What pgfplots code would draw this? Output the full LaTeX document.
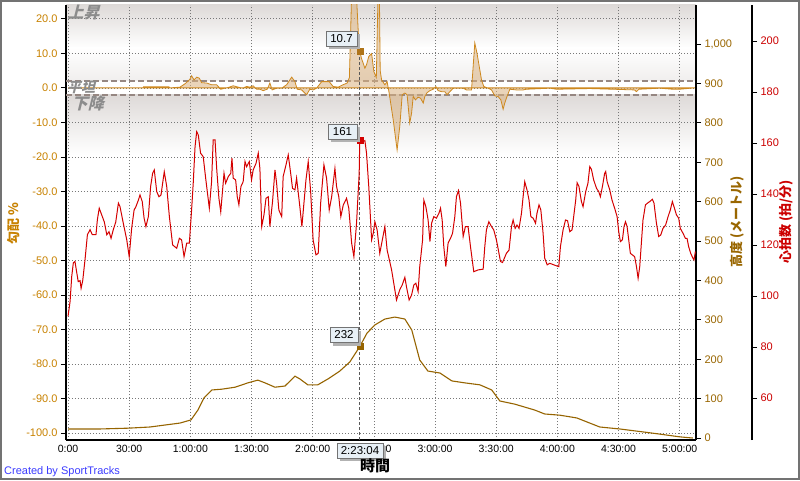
\documentclass[border=0pt]{standalone}
\usepackage{pgfplots}
\pgfplotsset{compat=1.18}
\usepackage{fontspec}
\setmainfont{Liberation Sans}
\newfontfamily\cjk{Noto Sans CJK JP}
\usetikzlibrary{shadows}
\definecolor{gradcol}{RGB}{206,136,30}
\definecolor{gradlab}{RGB}{200,130,0}
\definecolor{gradfill}{RGB}{218,178,128}
\definecolor{elevcol}{RGB}{150,100,0}
\definecolor{elevlab}{RGB}{153,102,0}
\definecolor{hrcol}{RGB}{212,0,0}
\definecolor{hrlab}{RGB}{204,0,0}
\definecolor{dashcol}{RGB}{150,135,130}
\definecolor{bggray}{RGB}{222,218,216}
\definecolor{boxfill}{RGB}{232,240,246}
\definecolor{stblue}{RGB}{60,60,255}
\definecolor{gridcol}{RGB}{120,120,120}

\pgfplotstableread{
t hr
0 92
1.0 97.8
1.8 107.6
2.6 113
3.4 113.5
4.3 109
5.0 105.6
5.9 106
6.4 103
7.2 106
8.3 114
9.5 124
10.8 126
11.9 124
13.7 124
14.4 130
15.3 134.4
16.5 131.8
17.8 129
19.0 124
20.1 125.2
21.1 122.6
22.2 126
23.4 129
24.7 136.4
25.5 135
27.1 128.5
28.8 122
30.0 115.4
31.2 126.5
32.4 133.7
33.3 135
34.5 137.6
35.3 139.6
36.4 137
37.3 130.5
38.2 127.2
39.4 131.1
40.5 142.9
41.5 148.1
42.3 149.4
43.5 140.9
44.6 138.9
45.6 139.6
46.4 144.2
47.2 148.7
48.4 142.9
49.7 131.1
51.3 120
53.3 118.7
54.6 122.6
55.7 122
56.9 115.4
58.2 120.7
59.5 120.7
60.6 133.7
61.4 144.2
62.3 158.6
63.1 164.4
63.9 163.1
65.0 156
66.3 154.6
67.5 146.2
68.3 140.9
69.3 134.4
70.4 144.8
71.2 161.2
72.1 161.2
72.9 150
74.0 138.3
74.9 133
75.6 139.6
76.5 148.1
77.3 144.2
78.6 146.8
79.8 148.1
80.4 154
81.0 146.2
82.2 145.5
83.0 138.9
83.8 135.7
84.8 142.9
85.9 144.8
86.8 152.7
87.6 150.7
88.9 152.7
90.0 145.5
90.8 149.4
92.2 152
93.3 156
94.1 150
95.0 127.2
96.1 131.8
97.1 138.3
98.2 138.9
99.0 127.2
100.3 137
101.5 149.4
102.3 144.2
103.4 133.7
104.8 131.1
105.5 146.8
106.7 150.7
108.0 155.3
109.2 148.1
110.1 142.2
111.3 141.6
112.1 146.2
113.7 135
114.7 127.2
115.7 136.4
116.7 145.5
117.8 152.7
119.0 140.9
120.2 122
121.6 116.1
122.7 116.7
123.9 136.4
125.5 151.4
126.8 146.2
128.1 133.7
129.3 138.9
130.9 150
131.7 142.9
132.8 138.9
133.8 131.1
135.0 135.7
136.6 138.3
137.7 134.4
139.1 120.7
140.2 115.4
141.5 128.5
142.8 148.1
143.07 161
144.5 160.5
145.6 160.9
146.4 156
147.5 142.9
148.9 122
149.7 124.6
150.5 129.1
151.6 125.9
152.9 116.7
154.3 122.6
155.4 127.2
156.5 118
158.7 110.2
161.1 98.4
162.7 102.4
163.9 104.3
165.2 107.3
166.0 103.6
167.3 98.4
168.5 100.4
169.6 104.3
170.6 105
171.7 101.7
172.5 111.5
173.9 122
174.5 137.6
175.5 135
176.6 129.8
177.5 121.3
178.3 128.5
179.4 131.1
180.7 130.5
181.9 132.4
182.7 134.4
183.5 129.8
184.3 119.3
185.3 111.5
186.4 120.7
187.6 122.6
188.6 124.6
189.7 131.1
190.5 138.9
191.5 141.3
192.5 136.4
193.8 123.3
194.9 127.2
196.2 127.2
197.4 119.3
199.0 109.5
201.1 110.2
203.6 110.5
204.4 119.3
205.2 125.9
206.4 129.1
207.7 127.2
208.8 125.9
210.1 122
210.9 118.7
212.1 113.5
213.1 113.1
215.0 116.7
216.3 118
217.5 127.2
218.3 129.8
219.3 126.5
220.2 127.8
221.2 126.5
222.4 132.4
223.2 138.9
224.0 144.8
225.1 141.6
226.1 137.6
227.0 131.1
228.1 130.5
229.3 128.5
230.0 132.4
231.0 135.7
231.9 133.7
233.0 124.6
233.8 114.8
235.0 112.2
236.3 112.8
238.2 112.2
240.7 111.5
241.5 119.3
242.8 125.9
244.0 129.8
245.0 129.5
246.1 125.2
247.2 125.9
248.0 131.1
249.0 137.6
249.7 144.4
250.6 142.9
251.8 137
252.6 135
253.9 140.9
255.0 144.2
255.9 150.7
256.7 149.7
257.8 145.5
259.2 142.2
260.3 140.9
261.1 138.9
262.1 142.9
263.2 148.1
263.7 148.8
264.4 144.8
265.7 141.6
266.8 137.6
268.1 134.4
269.3 131.1
270.1 125.2
270.9 121.3
271.9 122
272.7 127.2
273.4 129.1
274.2 127.2
275.0 122
275.8 116.7
276.8 116.1
277.9 115.4
278.8 111.5
279.6 106.9
280.4 111.5
281.2 120.7
282.0 129.8
283.2 135.7
284.2 136.4
285.3 137
286.6 137.9
287.4 136.4
288.6 128.5
289.7 123.3
290.7 123.9
291.8 126.5
293.1 127.8
294.3 131.1
295.4 133.7
296.4 137
297.2 135
298.4 131.8
299.5 130.5
300.3 126.5
301.6 124.6
302.8 122.6
303.6 122.6
304.4 119.3
305.4 116.7
306.5 114.8
307.0 114.1
307.7 117.4
}\hrdata

\pgfplotstableread{
t e
0 23
15.7 23
29.4 25
40.2 28
47.5 33
54.9 38
60.3 46
63.7 71
66.7 102
70.6 122
75.5 124
81.9 129
88.2 140
93.1 147
96.6 140
101.5 129
106.4 132
111.3 157
113.7 150
117.6 135
122.5 135
127.5 150
133.3 170
138.2 193
143.07 232
146.6 266
150.5 287
155.4 302
160.3 307
165.2 302
168.6 274
172.5 198
176.5 170
182.4 165
188.2 145
194.6 140
202 135
207.8 122
211.8 94
219.1 86
228.9 71
233.8 61
241.2 58
249.5 51
260.8 28
270.6 23
282.8 15
290.2 10
300 3
306.4 0
}\elevdata

\pgfplotstableread{
t g
0 0
36.8 0
37.0 0.3
49.5 0.3
50.0 0
54.9 0.2
57.4 1.2
59.8 2.5
60.6 3.5
61.8 2.3
63.1 3.1
64.4 2.8
65.5 1.5
68.0 1.4
70.4 0.9
72.9 0.9
74.9 -0.4
77.0 -0.1
79.1 0.2
81.0 0.6
83.5 0.2
85.6 -0.1
87.6 0.4
89.2 0.2
90.8 0.6
92.5 -0.4
94.1 -0.4
95.7 -0.8
97.7 -0.4
99.0 1.4
100.1 -0.6
102.3 -0.1
104.8 -0.1
107.2 0.9
109.7 3.1
111.3 1.8
112.4 -0.4
114.6 -0.6
117.0 -2.0
118.6 -0.4
120.2 -0.6
121.9 -0.1
124.4 1.8
128.1 1.8
130.0 0.4
132.5 0.2
134.9 0.9
136.9 1.4
138.0 3
139.9 45
142.8 11.0
143.07 10.7
143.9 8.6
145.6 5.7
146.4 6.7
147.5 9.1
148.9 9.9
150.0 4.7
151.2 3
152.5 40
153.1 5
153.8 2.3
155.4 0.9
156.5 1.8
157.5 -1.5
159.5 -9.3
161.4 -18.0
162.7 -11.2
163.9 -2.0
165.2 -1.5
166.3 -2.0
167.6 -10.2
168.5 -7.3
169.3 -2.5
170.4 -3.5
171.7 -2.7
172.9 -3.0
174.2 -4.4
175.0 -2.5
176.1 -1.4
177.5 -0.8
179.1 -0.4
180.4 0.4
181.5 -0.8
183.2 -1.1
184.8 -1.1
185.9 -2.0
187.3 -1.1
188.9 -0.1
193.8 -0.1
195.4 -0.6
197.9 -0.6
198.7 6.2
199.5 13.0
200.6 10.0
202.8 2.3
203.9 0.4
206.0 -0.1
207.7 -0.6
209.3 -2.3
210.9 -2.5
212.3 -3.5
213.4 -6.2
214.2 -4.4
215.3 -2.5
216.7 -0.4
219.9 -0.6
223.2 -0.6
224.8 -0.4
236.3 -0.1
239.6 -0.4
255.9 -0.2
267.3 -0.4
277.9 -0.6
278.8 -1.1
280.0 -0.4
290.2 -0.1
296.7 -0.4
300.0 -0.4
307.4 0
}\graddata

\begin{document}
\begin{tikzpicture}[x=1pt,y=1pt]
\useasboundingbox (0,0) rectangle (800,480);
\fill[white] (0,0) rectangle (800,480);
% background bands of the gradient panel
\shade[top color=bggray, bottom color=white] (66,475) rectangle (696,432);
\shade[top color=white, bottom color=bggray!45] (66,432) rectangle (696,399);
\shade[top color=bggray, bottom color=white] (66,385) rectangle (696,325);

% gradient axis (left)
\begin{axis}[
  at={(66pt,40pt)}, anchor=south west, scale only axis,
  width=630pt, height=435pt,
  xmin=-1, xmax=308, ymin=-102, ymax=24,
  axis x line*=bottom, axis y line*=left,
  axis line style={black, line width=1.2pt},
  xtick={0,30,...,300},
  xticklabels={0:00,30:00,1:00:00,1:30:00,2:00:00,2:30:00,3:00:00,3:30:00,4:00:00,4:30:00,5:00:00},
  ytick={-100,-90,...,20},
  grid=major, grid style={gridcol, dash pattern=on 0.8pt off 2.2pt, line width=0.7pt},
  tick align=outside, major tick length=5pt,
  xtick style={draw=none},
  ytick style={black, line width=0.8pt},
  /pgf/number format/assume math mode=true,
  ticklabel style={font=\fontsize{10.5}{12}\selectfont},
  yticklabel style={text=gradlab, font=\fontsize{11}{12}\selectfont, /pgf/number format/fixed, /pgf/number format/fixed zerofill, /pgf/number format/precision=1},
  xticklabel style={text=black, yshift=3pt},
]
\addplot[dashcol, line width=2pt, dash pattern=on 6pt off 3pt] coordinates {(-1,2.03) (308,2.03)};
\addplot[dashcol, line width=2pt, dash pattern=on 6pt off 3pt] coordinates {(-1,-2.03) (308,-2.03)};
\addplot[draw=gradcol, line width=0.8pt, fill=gradfill, fill opacity=0.55] table[x=t,y=g] {\graddata} \closedcycle;
\addplot[black!65, line width=0.8pt, dash pattern=on 3pt off 2pt] coordinates {(143.07,-102) (143.07,10.7)};
\addplot[only marks, mark=square*, mark size=3pt, color=gradcol!85!black] coordinates {(143.07,10.7)};
\end{axis}

% elevation axis (right)
\begin{axis}[
  at={(66pt,40pt)}, anchor=south west, scale only axis,
  width=630pt, height=435pt,
  xmin=-1, xmax=308, ymin=-5, ymax=1099,
  axis x line=none, axis y line*=right,
  axis line style={black, line width=1.2pt},
  ytick={0,100,...,1000},
  tick align=outside, major tick length=5pt,
  ytick style={black, line width=0.8pt},
  /pgf/number format/assume math mode=true,
  ticklabel style={font=\fontsize{11}{12}\selectfont},
  yticklabel style={text=elevlab},
]
\addplot[elevcol, line width=1.1pt] table[x=t,y=e] {\elevdata};
\addplot[only marks, mark=square*, mark size=3pt, color=elevcol] coordinates {(143.07,232)};
\end{axis}

% heart-rate data
\begin{axis}[
  at={(66pt,40pt)}, anchor=south west, scale only axis,
  width=630pt, height=435pt,
  xmin=-1, xmax=308, ymin=43.5, ymax=214.1,
  hide axis,
]
\addplot[hrcol, line width=1.0pt] table[x=t,y=hr] {\hrdata};
\addplot[only marks, mark=square*, mark size=3pt, color=hrcol] coordinates {(143.07,161)};
\end{axis}

% heart-rate scale
\begin{axis}[
  at={(122pt,40pt)}, anchor=south west, scale only axis,
  width=630pt, height=435pt,
  xmin=-1, xmax=308, ymin=43.5, ymax=214.1,
  axis x line=none, axis y line*=right,
  axis line style={black, line width=1.2pt},
  ytick={60,80,...,200},
  tick align=outside, major tick length=5pt,
  ytick style={black, line width=0.8pt},
  /pgf/number format/assume math mode=true,
  ticklabel style={font=\fontsize{11}{12}\selectfont},
  yticklabel style={text=hrlab},
]
\addplot[draw=none] coordinates {(0,60)};
\end{axis}

% panel texts
\begin{scope}[every node/.style={text=black!45, font=\cjk\bfseries\fontsize{16}{16}\selectfont, xslant=0.25, inner sep=0pt}]
\node at (85,467.5) {上昇};
\node[font=\cjk\bfseries\fontsize{14}{14}\selectfont] at (82.5,392.5) {平坦};
\node at (89.5,376.5) {下降};
\end{scope}

% value boxes
\begin{scope}[every node/.style={draw=black!55, fill=boxfill, font=\fontsize{11.5}{12}\selectfont, inner sep=0pt, minimum height=15pt, drop shadow={shadow xshift=3pt, shadow yshift=-3pt, fill=black!30, opacity=1}}]
\node[minimum width=31pt] at (341.5,441) {10.7};
\node[minimum width=29pt] at (342.5,348.5) {161};
\node[minimum width=28pt] at (344,145) {232};
\node[minimum width=46pt] at (360,29.5) {2:23:04};
\end{scope}

% axis titles
\node[rotate=90, text=gradlab, font=\cjk\bfseries\fontsize{13}{13}\selectfont] at (14,256) {勾配 \%};
\node[rotate=90, text=elevlab, font=\cjk\bfseries\fontsize{13}{13}\selectfont] at (737,258) {高度 (メートル)};
\node[rotate=90, text=hrlab, font=\cjk\bfseries\fontsize{13}{13}\selectfont] at (786,258) {心拍数 (拍/分)};
\node[font=\cjk\bfseries\fontsize{15}{15}\selectfont] at (375,14) {時間};
\node[anchor=west, text=stblue, font=\fontsize{11}{12}\selectfont, inner sep=0pt] at (4,8.5) {Created by SportTracks};

\draw[black!55, line width=2pt] (1,1) rectangle (799,479);
\end{tikzpicture}
\end{document}
